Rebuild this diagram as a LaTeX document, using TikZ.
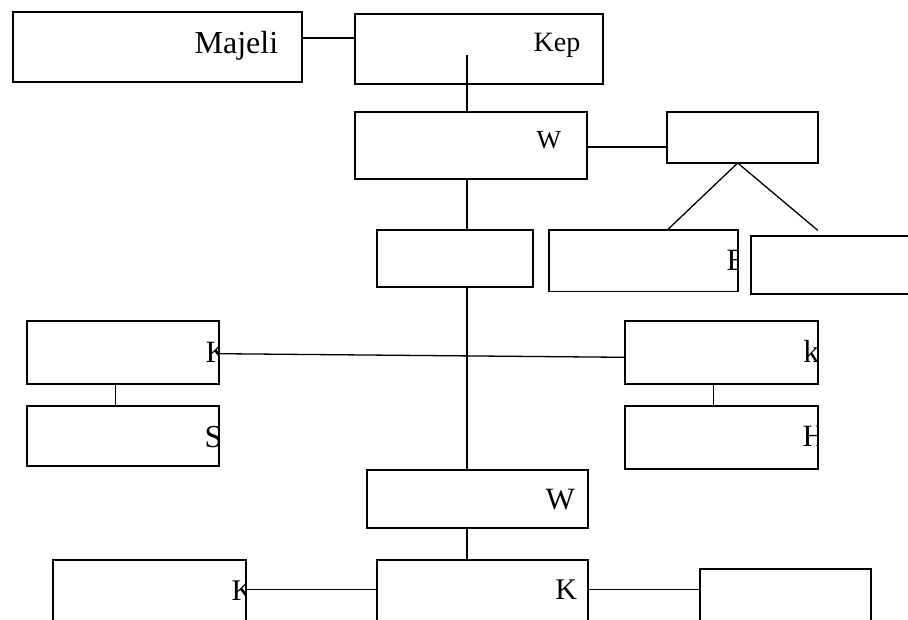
\documentclass[tikz,border=0pt]{standalone}
\usepackage{fontspec}
\setmainfont{Liberation Serif}
\usetikzlibrary{fit}
\begin{document}
\begin{tikzpicture}[x=1pt,y=-1pt,line width=1.3pt,
  box/.style={draw,fill=white,rectangle,inner sep=0pt},
  txt/.style={anchor=base west,inner sep=0pt,font=\fontsize{#1}{#1}\selectfont},
  conn/.style={line width=1.3pt}]
\useasboundingbox (0,0) rectangle (908,619);
\clip (0,0) rectangle (908,619);
% boxes
\node[box,fit={(13,12) (302,82)}] (maj) {};
\node[box,fit={(355,14) (603,84)}] (kep) {};
\node[box,fit={(355,112) (587,179)}] (w1) {};
\node[box,fit={(667,112) (818,163)}] (r1) {};
\node[box,fit={(377,230) (533,287)}] (c1) {};
\node[box,fit={(549,230) (738,291.5)}] (e) {};
\node[box,fit={(751,236) (930,294)}] (fr) {};
\node[box,fit={(27,321) (219,384)}] (kl) {};
\node[box,fit={(27,406) (219,466)}] (s) {};
\node[box,fit={(625,321) (818,384)}] (kr) {};
\node[box,fit={(625,406) (818,469)}] (h) {};
\node[box,fit={(367,470) (588,528)}] (w2) {};
\node[box,fit={(377,560) (588,660)}] (kb) {};
\node[box,fit={(53,560) (246,660)}] (kbl) {};
\node[box,fit={(700,569) (871,660)}] (rb) {};
% texts
\node[txt=32] (tmaj) at (194,53) {Majeli};
\node[txt=28] (tkep) at (533,51.7) {Kep};
\node[txt=26] (tw1) at (536,148.3) {W};
\node[txt=31] (tw2) at (545,509.7) {W};
\node[txt=30] (tkb) at (554.7,599.7) {K};
\begin{scope}\clip (e.south west) rectangle (e.north east);
\node[txt=31] (te) at (726,270.3) {E};\end{scope}
\begin{scope}\clip (kl.south west) rectangle (kl.north east);
\node[txt=31] (tkl) at (205,362) {K};\end{scope}
\begin{scope}\clip (s.south west) rectangle (s.north east);
\node[txt=32] (ts) at (204,447) {S};\end{scope}
\begin{scope}\clip (kr.south west) rectangle (kr.north east);
\node[txt=32] (tkr) at (802.7,362) {k};\end{scope}
\begin{scope}\clip (h.south west) rectangle (h.north east);
\node[txt=31] (th) at (802,446) {H};\end{scope}
\begin{scope}\clip (kbl.south west) rectangle (kbl.north east);
\node[txt=30] (tkbl) at (231,600.7) {K};\end{scope}
% connectors
\coordinate (kin) at (467,55);
\coordinate (apex) at (737.7,163);
\coordinate (dr) at (817.7,230.3);
\draw[conn] (maj.east |- 0,38) -- (kep.west |- 0,38);
\draw[conn] (kin) -- (kin |- w1.north);
\draw[conn] (w1.east |- 0,147) -- (r1.west |- 0,147);
\draw[conn] (apex) -- (e.north -| 668,0);
\draw[conn] (apex) -- (dr);
\draw[conn] (w1.south -| kin) -- (c1.north -| kin);
\draw[conn] (c1.south -| kin) -- (w2.north -| kin);
\draw[conn] (kl.east |- 0,353.7) -- (kr.west |- 0,357.3);
\draw[conn] (kl.south -| 115.3,0) -- (s.north -| 115.3,0);
\draw[conn] (kr.south -| 713.3,0) -- (h.north -| 713.3,0);
\draw[conn] (w2.south -| kin) -- (kb.north -| kin);
\draw[conn] (kbl.east |- 0,589.5) -- (kb.west |- 0,589.5);
\draw[conn] (kb.east |- 0,589.5) -- (rb.west |- 0,589.5);
\end{tikzpicture}
\end{document}
